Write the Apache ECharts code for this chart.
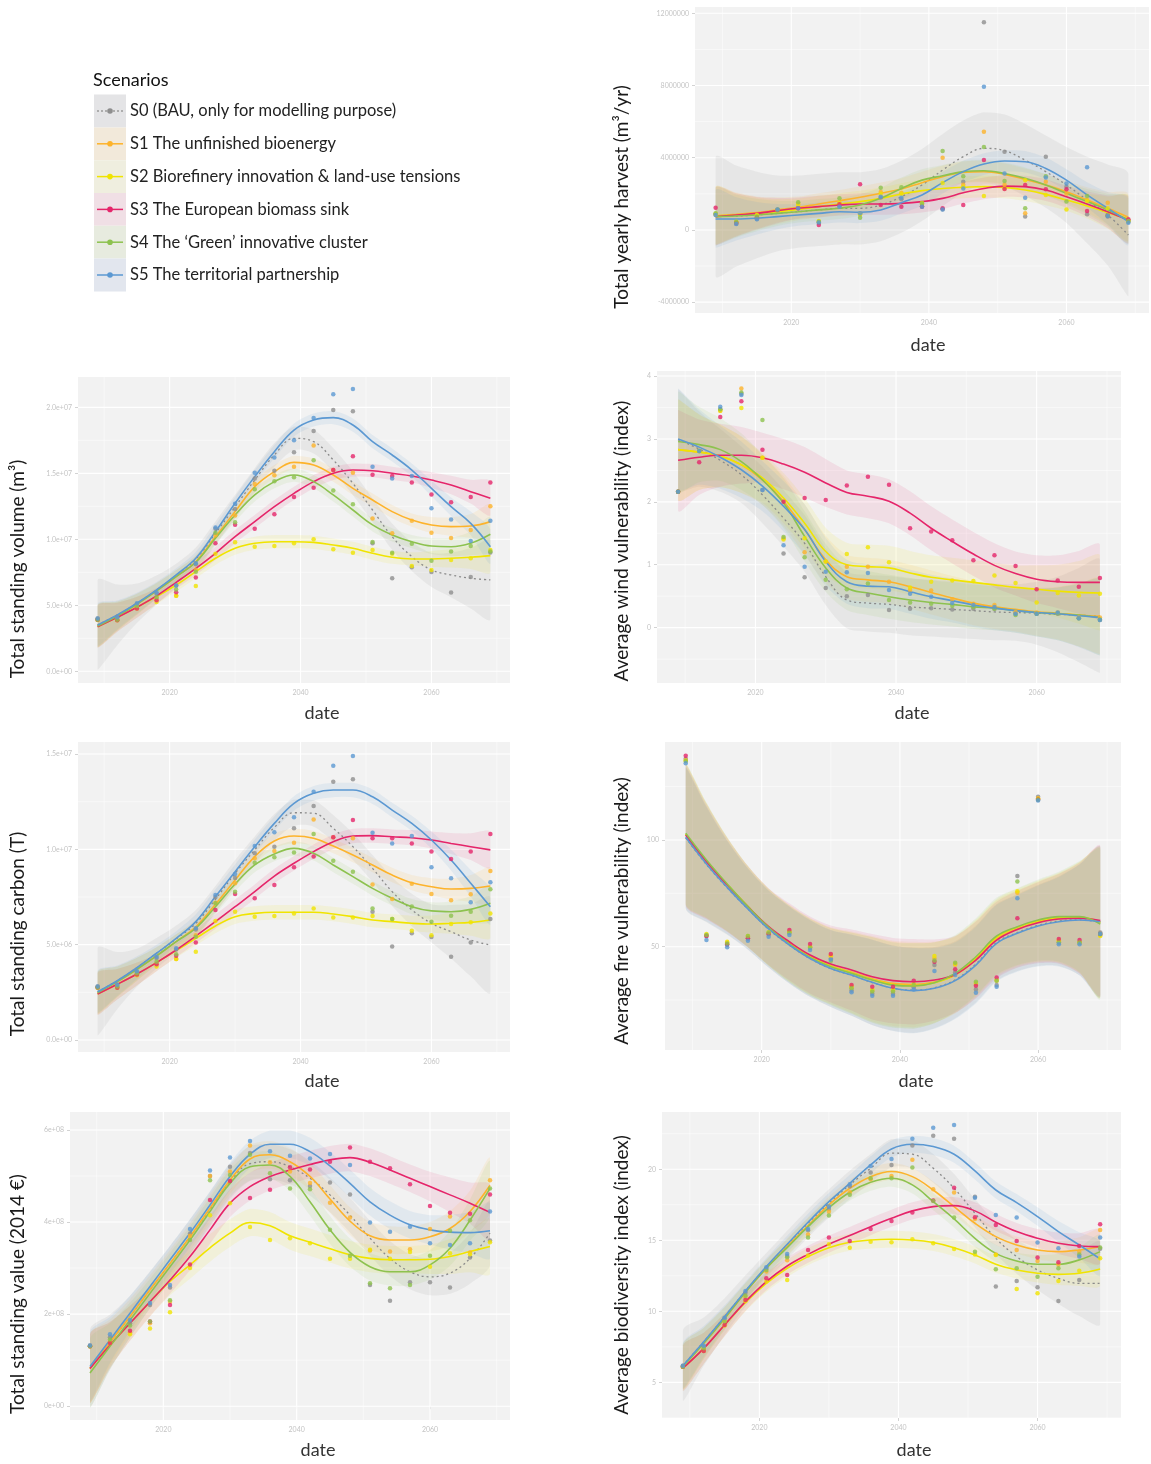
<!DOCTYPE html>
<html><head><meta charset="utf-8">
<script src="https://cdn.jsdelivr.net/npm/echarts@6/dist/echarts.min.js"></script>
<style>html,body{margin:0;padding:0;background:#fff}#c{width:1151px;height:1464px}</style>
</head><body><div id="c"></div>
<script>
// ---------- shared ----------
const dates = [2009,2012,2015,2018,2021,2024,2027,2030,2033,2036,2039,2042,2045,2048,2051,2054,2057,2060,2063,2066,2069];
const scenarios = ['S0 (BAU, only for modelling purpose)','S1 The unfinished bioenergy','S2 Biorefinery innovation & land-use tensions','S3 The European biomass sink','S4 The \u2018Green\u2019 innovative cluster','S5 The territorial partnership'];
const xTicks = [2020,2040,2060];
const xMinor = [2010,2030,2050,2070];

// ---------- Total yearly harvest (millions m3/yr) ----------
const harvestPts = [
 [0.85,0.35,0.6,1.1,1.2,0.4,1.3,0.9,1.8,1.7,1.3,1.15,2.67,11.5,4.33,0.74,4.06,2.4,0.87,0.74,0.45],
 [0.85,0.4,0.8,1.1,1.45,0.45,1.47,0.9,2.1,2.06,1.4,4.0,2.5,5.44,2.5,0.92,2.67,2.0,1.66,1.51,0.55],
 [0.9,0.45,0.83,1.1,1.4,0.5,1.5,0.85,2.0,2.0,1.5,2.6,2.4,1.88,2.3,2.76,1.94,1.14,1.6,1.2,0.5],
 [1.23,0.4,0.7,1.1,1.2,0.28,1.42,2.53,1.38,1.29,1.3,1.2,1.38,3.87,2.27,2.49,2.25,2.25,1.05,0.8,0.59],
 [0.92,0.45,0.75,1.14,1.53,0.45,1.75,0.68,2.34,2.36,1.47,4.37,2.98,4.6,2.71,1.2,2.98,1.57,1.88,0.8,0.5],
 [0.83,0.33,0.59,1.14,1.2,0.41,1.29,0.92,1.84,1.79,1.29,1.14,2.3,7.93,3.13,1.79,2.9,2.58,3.47,0.77,0.4]
];
const harvestFit = [
 [0.74,0.77,0.83,0.92,1.01,1.11,1.2,1.2,1.38,1.84,2.49,3.32,4.06,4.52,4.39,3.87,3.23,2.49,1.66,0.83,-0.28],
 [0.79,0.87,0.96,1.11,1.25,1.44,1.62,1.81,2.03,2.27,2.62,2.95,3.19,3.23,3.08,2.8,2.49,2.12,1.66,1.2,0.7],
 [0.79,0.83,0.9,1.01,1.14,1.29,1.44,1.57,1.75,1.99,2.18,2.3,2.36,2.4,2.36,2.21,1.97,1.66,1.33,0.96,0.61],
 [0.74,0.83,0.92,1.07,1.2,1.29,1.38,1.44,1.44,1.47,1.57,1.75,2.06,2.3,2.43,2.4,2.21,1.84,1.44,1.01,0.55],
 [0.74,0.77,0.83,0.92,1.01,1.11,1.2,1.38,1.75,2.3,2.76,3.0,3.23,3.28,3.13,2.86,2.49,2.03,1.57,1.11,0.55],
 [0.61,0.61,0.65,0.74,0.83,0.92,1.01,0.98,1.11,1.51,1.94,2.62,3.23,3.65,3.82,3.78,3.41,2.76,1.94,1.2,0.46]
];
const harvestSE = [1.6,1.2,0.9,0.7,0.6,0.6,0.6,0.6,0.6,0.6,0.6,0.6,0.6,0.6,0.6,0.6,0.6,0.6,0.7,0.9,1.3];
const harvestSE0 = [3.3,2.8,2.4,2.1,2.0,2.0,2.0,2.0,2.0,2.0,2.0,2.0,2.0,2.0,2.0,2.0,2.0,2.1,2.4,2.8,3.4];

// ---------- Total standing volume (millions m3) ----------
const volumePts = [
 [4.0,4.1,5.1,5.9,6.5,8.1,10.8,12.3,14.6,15.2,16.6,18.2,19.8,19.7,9.7,7.05,7.88,7.53,5.96,7.15,9.0],
 [3.9,3.9,4.9,5.5,5.73,7.7,10.3,11.8,14.2,14.85,15.5,17.1,15.25,15.05,11.57,10.45,11.4,10.5,10.1,10.7,12.5],
 [3.9,3.86,4.75,5.25,5.73,6.46,8.9,9.77,9.44,9.5,9.7,10.0,9.24,8.99,9.19,8.9,7.98,7.68,8.43,8.56,9.19],
 [3.9,3.86,4.75,5.38,5.98,7.1,9.7,11.1,10.8,11.9,13.2,13.9,15.25,16.3,14.9,14.8,14.3,13.4,12.8,13.2,14.3],
 [3.9,3.9,4.95,5.6,6.2,7.55,10.5,11.3,13.8,14.4,14.7,16.0,13.7,12.65,9.8,8.99,9.67,8.38,9.07,9.5,9.07],
 [4.0,4.1,5.15,5.96,6.5,8.18,10.9,12.7,15.05,16.2,17.5,19.2,21.0,21.4,15.5,14.6,14.8,12.35,11.5,9.87,11.4]
];
const volumeFit = [
 [3.51,4.27,5.15,6.16,7.25,8.48,10.45,12.47,14.49,16.39,17.65,17.4,16.01,14.24,12.22,10.2,8.69,7.68,7.3,7.05,6.92],
 [3.43,4.19,5.08,6.09,7.17,8.31,10.2,12.1,13.99,15.13,15.83,15.63,14.87,13.86,12.98,12.1,11.46,11.09,10.96,11.01,11.34],
 [3.38,4.09,4.85,5.66,6.54,7.55,8.56,9.32,9.7,9.82,9.82,9.77,9.57,9.32,8.94,8.64,8.51,8.51,8.56,8.64,8.76],
 [3.38,4.09,4.85,5.71,6.74,7.8,8.94,10.2,11.34,12.47,13.48,14.37,15.0,15.25,15.2,15.0,14.8,14.49,14.12,13.61,13.11],
 [3.43,4.19,5.08,6.09,7.17,8.26,10.08,11.84,13.36,14.37,14.87,14.37,13.36,12.22,11.09,10.33,9.82,9.49,9.44,9.7,10.38],
 [3.51,4.27,5.15,6.16,7.3,8.56,10.58,12.73,14.75,16.64,18.28,19.04,19.22,18.66,17.4,16.39,15.25,13.86,12.47,11.21,9.44]
];
const volumeSE = [1.6,1.1,0.8,0.6,0.5,0.5,0.5,0.5,0.5,0.5,0.5,0.5,0.5,0.5,0.5,0.5,0.5,0.6,0.7,0.9,1.3];
const volumeSE0 = [3.4,2.3,1.5,1.1,0.9,0.9,0.9,0.9,0.9,0.9,0.9,0.9,0.9,0.9,0.9,1.0,1.1,1.3,1.7,2.3,3.0];

// ---------- Average wind vulnerability (index) ----------
const windPts = [
 [2.16,2.81,3.47,3.72,2.19,1.18,0.8,0.63,0.5,0.52,0.28,0.3,0.31,0.29,0.3,0.3,0.22,0.22,0.22,0.15,0.12],
 [2.16,2.81,3.45,3.8,2.7,1.42,1.2,1.05,0.97,0.97,0.73,0.6,0.59,0.45,0.38,0.36,0.25,0.24,0.24,0.16,0.16],
 [2.16,2.81,3.45,3.49,2.7,1.4,1.42,1.05,1.17,1.28,1.04,0.64,0.73,0.75,0.74,0.83,0.71,0.4,0.55,0.51,0.54],
 [2.16,2.63,3.35,3.6,2.83,2.0,2.06,2.03,2.26,2.4,2.27,1.58,1.53,1.39,1.07,1.15,0.98,0.61,0.75,0.65,0.79],
 [2.16,2.81,3.47,3.74,3.3,1.44,1.12,0.76,0.61,0.7,0.44,0.4,0.38,0.35,0.33,0.3,0.2,0.22,0.23,0.15,0.13],
 [2.16,2.81,3.51,3.7,2.19,1.31,0.97,0.89,0.88,0.87,0.6,0.54,0.49,0.39,0.36,0.33,0.22,0.22,0.24,0.15,0.12]
];
const windFit = [
 [2.99,2.84,2.66,2.43,2.11,1.74,1.34,0.81,0.44,0.39,0.37,0.33,0.31,0.29,0.27,0.25,0.24,0.23,0.21,0.2,0.18],
 [2.83,2.79,2.73,2.59,2.35,2.01,1.56,1.08,0.81,0.76,0.73,0.65,0.56,0.47,0.39,0.33,0.29,0.25,0.23,0.2,0.18],
 [2.83,2.79,2.73,2.59,2.38,2.06,1.66,1.21,1.0,0.97,0.95,0.87,0.8,0.76,0.72,0.68,0.64,0.61,0.58,0.56,0.55],
 [2.66,2.71,2.74,2.74,2.7,2.6,2.47,2.3,2.15,2.09,2.01,1.82,1.58,1.37,1.17,0.99,0.86,0.77,0.73,0.72,0.72],
 [2.96,2.91,2.83,2.64,2.35,1.98,1.45,0.95,0.63,0.55,0.49,0.44,0.4,0.37,0.33,0.31,0.27,0.24,0.22,0.2,0.16],
 [3.0,2.87,2.71,2.51,2.25,1.93,1.56,1.05,0.73,0.66,0.65,0.57,0.49,0.43,0.36,0.31,0.27,0.24,0.22,0.19,0.16]
];
const windSE = [0.8,0.6,0.5,0.45,0.4,0.4,0.4,0.38,0.35,0.35,0.35,0.35,0.35,0.35,0.35,0.35,0.35,0.38,0.42,0.5,0.6];
const windSE0 = [0.8,0.6,0.5,0.45,0.45,0.45,0.45,0.45,0.45,0.45,0.45,0.45,0.45,0.45,0.45,0.45,0.45,0.5,0.6,0.75,0.9];

// ---------- Total standing carbon (millions T) ----------
const carbonPts = [
 [2.8,2.9,3.55,4.3,4.75,5.8,7.5,8.5,9.8,10.14,11.1,12.27,13.55,13.67,6.73,4.9,5.6,5.4,4.37,5.12,6.35],
 [2.75,2.8,3.45,4.0,4.25,5.5,7.2,8.22,9.53,9.91,10.35,11.57,10.63,10.58,8.16,7.4,8.2,7.66,7.33,7.64,8.86],
 [2.75,2.74,3.4,3.85,4.25,4.63,6.24,6.73,6.47,6.5,6.64,6.9,6.43,6.43,6.5,6.35,5.73,5.5,6.08,6.17,6.64],
 [2.75,2.74,3.44,3.97,4.42,5.12,6.82,7.66,7.43,8.13,9.06,9.62,10.63,11.54,10.58,10.58,10.31,9.88,9.49,9.88,10.8],
 [2.75,2.8,3.5,4.1,4.5,5.42,7.17,7.78,9.3,9.58,9.83,10.8,9.4,8.83,6.9,6.35,7.0,6.2,6.52,6.73,7.9],
 [2.8,2.9,3.6,4.37,4.81,5.86,7.6,8.71,10.17,10.9,11.68,13.02,14.39,14.9,10.87,10.31,10.7,9.06,8.48,7.22,8.27]
];
const carbonFit = [
 [2.53,3.11,3.79,4.55,5.3,6.12,7.38,8.74,9.97,11.15,11.92,11.89,11.1,10.14,9.0,7.78,6.82,6.12,5.68,5.24,4.98],
 [2.48,3.06,3.71,4.41,5.16,5.94,7.12,8.39,9.62,10.44,10.7,10.58,10.17,9.7,9.18,8.65,8.25,8.04,7.92,7.95,8.08],
 [2.41,2.92,3.46,4.06,4.69,5.33,5.98,6.47,6.64,6.7,6.7,6.7,6.61,6.47,6.29,6.21,6.12,6.08,6.12,6.17,6.29],
 [2.41,2.92,3.46,4.06,4.72,5.45,6.21,6.99,7.78,8.6,9.27,9.88,10.4,10.7,10.72,10.66,10.61,10.49,10.31,10.14,9.97],
 [2.48,3.06,3.71,4.41,5.16,5.86,6.99,8.18,9.18,9.76,10.05,9.79,9.18,8.57,7.95,7.43,6.99,6.77,6.73,6.85,7.17],
 [2.53,3.11,3.79,4.55,5.33,6.21,7.52,8.83,10.14,11.36,12.41,12.94,13.11,13.11,12.76,12.06,11.36,10.49,9.44,8.22,6.99]
];
const carbonSE = [1.1,0.8,0.6,0.45,0.38,0.38,0.38,0.38,0.38,0.38,0.38,0.38,0.38,0.38,0.38,0.38,0.4,0.45,0.55,0.7,0.95];
const carbonSE0 = [2.3,1.5,1.0,0.8,0.7,0.7,0.7,0.7,0.7,0.7,0.7,0.7,0.7,0.7,0.7,0.75,0.85,1.0,1.4,1.9,2.5];

// ---------- Average fire vulnerability (index) ----------
const firePts = [
 [138,55,51,54,56,56.5,49.5,44.5,29.5,28,28,31,41.4,38,30,32,83.1,120.3,52,52,56.6],
 [137.5,55.5,52,54.5,56.5,57,50,45.5,31,29.5,29.5,32,44.5,41.5,32.5,34,75.3,119.5,52.5,52,55.5],
 [137,55.9,52.3,55,56.7,57,50,46,31.5,30,30,32.5,45.6,42,33,34.5,76,119.3,53,52,55],
 [139.4,55,51,54,56,57.8,51.3,46.6,32,31.25,31.25,34.1,43,39.4,31.7,35.6,63.3,119,53.6,53.1,56],
 [137,55.5,51.5,55,56.7,56.5,49.5,43.3,30.5,29,29,32,43.5,42.5,33.6,34,80.5,118.8,52,52,56],
 [135.9,53.1,49.7,52.8,54.7,55.5,48.4,44,28.6,27,27,30,38.6,36.7,28.4,31.25,72.7,118.5,51.1,51.1,56]
];
const fireFit = [
 [101.0,88.5,77.6,67.6,58.2,50.7,44.4,39.7,36.6,33.2,30.6,29.6,30.8,34.5,41.9,52.0,56.6,60.0,62.0,62.6,61.5],
 [102.7,90.2,79.1,68.75,59.2,51.7,45.5,41.1,38.1,35.0,32.8,32.3,33.4,36.7,44.1,53.75,58.4,61.6,63.3,63.6,61.7],
 [102.8,90.3,79.2,68.75,59.1,51.4,45.2,40.8,37.7,34.5,32.3,31.7,33.1,37.0,44.7,54.4,59.1,62.0,63.6,63.75,61.25],
 [102.3,89.8,78.9,68.75,59.4,52.3,46.1,41.9,39.1,35.9,34.1,33.6,34.4,37.0,43.75,53.1,58.1,61.25,63.0,63.3,62.2],
 [103.1,90.6,79.4,68.75,59.1,51.25,45.0,40.6,37.5,34.4,32.0,31.6,33.1,37.5,45.3,55.0,59.4,62.5,64.1,64.1,60.6],
 [101.25,88.75,77.8,67.7,58.3,50.8,44.5,39.8,36.7,33.3,30.5,29.4,30.5,34.1,41.4,51.6,56.25,59.7,61.7,62.5,61.7]
];
const fireSE = [33,27,22,19,18,18,18,18,19,20,20,20,19,18,18,18,18,19,21,26,35];
const fireSE0 = [33,27,22,19,18,18,18,18,19,20,20,20,19,18,18,18,18,19,21,26,35];

// ---------- Total standing value (hundred millions 2014 EUR) ----------
const valuePts = [
 [1.32,1.5,1.8,2.2,2.58,3.75,5.0,5.2,5.5,4.93,4.91,4.78,4.86,4.6,2.63,2.29,2.69,2.69,2.58,3.23,3.6],
 [1.3,1.4,1.6,1.8,2.27,3.7,5.0,5.1,5.66,5.3,5.1,4.85,4.42,4.1,3.38,3.36,3.41,3.85,4.12,3.34,4.91],
 [1.3,1.37,1.56,1.69,2.04,3.0,4.15,4.41,3.89,3.61,3.65,3.54,3.2,3.2,3.4,3.2,3.35,3.03,3.32,3.3,3.56],
 [1.3,1.37,1.64,1.84,2.2,3.08,4.48,4.89,4.52,4.7,5.19,5.14,5.31,5.62,5.31,5.17,4.82,4.35,4.2,4.18,4.6],
 [1.3,1.45,1.75,1.84,2.3,3.61,4.91,5.02,5.46,5.06,4.73,4.71,3.83,3.27,2.67,2.56,2.63,3.27,3.81,4.04,4.73],
 [1.32,1.56,1.87,2.24,2.63,3.85,5.12,5.4,5.76,5.54,5.44,5.38,5.48,5.24,3.99,3.79,3.9,3.54,3.5,3.54,4.23]
];
const valueFit = [
 [0.82,1.39,1.95,2.53,3.1,3.68,4.28,4.88,5.27,5.31,5.2,4.95,4.59,4.15,3.65,3.21,2.92,2.81,2.89,3.21,3.76],
 [0.82,1.39,1.95,2.53,3.1,3.68,4.3,4.91,5.37,5.46,5.31,4.99,4.5,4.02,3.7,3.61,3.61,3.68,3.86,4.23,4.8],
 [0.82,1.33,1.8,2.27,2.71,3.07,3.44,3.76,3.99,3.92,3.7,3.56,3.42,3.29,3.21,3.18,3.18,3.19,3.25,3.36,3.47],
 [0.82,1.33,1.8,2.27,2.74,3.25,3.83,4.41,4.77,4.99,5.13,5.25,5.35,5.4,5.3,5.13,4.95,4.77,4.59,4.41,4.21],
 [0.72,1.3,1.87,2.45,3.03,3.61,4.23,4.84,5.2,5.24,4.99,4.44,3.83,3.34,3.03,2.92,2.92,3.07,3.43,4.04,4.73],
 [0.86,1.44,2.02,2.6,3.18,3.76,4.37,4.99,5.47,5.69,5.69,5.53,5.22,4.84,4.44,4.15,3.94,3.83,3.78,3.77,3.81]
];
const valueSE = [0.75,0.5,0.38,0.32,0.3,0.3,0.3,0.3,0.3,0.3,0.3,0.3,0.3,0.3,0.3,0.3,0.3,0.32,0.38,0.45,0.6];
const valueSE0 = [0.85,0.6,0.45,0.4,0.38,0.38,0.38,0.38,0.38,0.38,0.38,0.38,0.38,0.38,0.38,0.38,0.38,0.4,0.45,0.55,0.7];

// ---------- Average biodiversity index (index) ----------
const bioPts = [
 [6.17,7.5,9.5,11.3,13.0,13.9,15.7,17.2,18.8,19.77,20.3,21.67,22.35,22.14,18.07,11.74,12.14,11.69,10.73,12.2,14.4],
 [6.1,7.4,9.3,11.0,12.8,13.6,15.4,17.0,18.38,19.3,19.53,20.66,18.59,18.36,16.5,14.0,14.32,13.54,13.3,14.2,15.73],
 [6.1,7.2,9.0,10.7,12.09,12.2,13.92,14.72,14.48,14.9,14.86,15.07,14.79,14.39,14.0,13.97,11.57,11.27,12.14,12.86,13.73],
 [6.1,7.2,9.04,10.8,12.32,12.56,14.32,15.19,14.95,15.8,16.36,16.95,17.8,18.7,16.62,16.08,14.95,13.78,13.45,14.6,16.13],
 [6.1,7.4,9.3,11.1,12.9,13.8,15.19,16.74,18.2,19.37,19.37,20.12,17.77,16.6,14.2,12.96,13.03,12.44,13.03,14.0,14.5],
 [6.17,7.58,9.55,11.43,13.1,14.04,15.8,17.37,18.94,20.23,20.73,22.14,22.93,23.12,18.0,16.78,16.6,14.84,14.44,13.85,15.2]
];
const bioFit = [
 [6.17,7.86,9.62,11.43,13.1,14.67,16.2,17.6,18.9,20.07,21.13,21.06,20.07,18.66,16.9,15.14,13.85,12.91,12.32,11.97,11.97],
 [6.1,7.75,9.5,11.34,13.03,14.55,16.03,17.49,18.66,19.48,19.84,19.48,18.54,17.37,16.2,15.26,14.67,14.32,14.2,14.32,14.55],
 [5.99,7.39,9.04,10.63,11.97,13.03,13.85,14.48,14.86,15.02,15.07,15.02,14.84,14.48,13.97,13.31,12.91,12.68,12.6,12.68,12.98],
 [5.99,7.39,9.04,10.68,12.09,13.19,14.01,14.72,15.33,15.96,16.55,17.07,17.37,17.44,17.07,16.27,15.61,15.14,14.79,14.6,14.55],
 [6.1,7.75,9.5,11.34,13.03,14.48,15.96,17.3,18.38,19.08,19.37,18.9,17.72,16.5,15.14,14.08,13.54,13.31,13.31,13.62,14.2],
 [6.17,7.86,9.62,11.43,13.15,14.72,16.27,17.72,19.01,20.31,21.43,21.76,21.6,21.06,19.88,18.54,17.65,16.67,15.61,14.67,13.69]
];
const bioSE = [1.6,1.1,0.8,0.65,0.6,0.6,0.6,0.6,0.6,0.6,0.6,0.6,0.6,0.6,0.6,0.6,0.6,0.65,0.75,0.9,1.2];
const bioSE0 = [2.5,1.7,1.3,1.1,1.0,1.0,1.0,1.0,1.0,1.0,1.0,1.0,1.0,1.0,1.0,1.1,1.2,1.4,1.8,2.3,2.9];

// ---------- styling ----------
const colors = ['#8E8E8E','#FDB32B','#F0E400','#E5256A','#8DC24F','#5B98D2'];
const bandColors = ['rgba(150,150,150,0.12)','rgba(253,179,43,0.10)','rgba(240,228,0,0.10)','rgba(229,37,106,0.10)','rgba(141,194,79,0.10)','rgba(91,152,210,0.11)'];
const keyFill = ['#E4E4E6','#F2E9DA','#EFEEDF','#F0DFE5','#E7EBDF','#E2E6EE'];
const FONT = 'Lato, "Open Sans", sans-serif';

function sci(v, d) {
  return v.toExponential(d).replace(/e([+-])(\d)$/, 'e$10$2');
}

const panels = [
 {pts:harvestPts, fit:harvestFit, se:harvestSE, se0:harvestSE0,
  grid:{left:695, top:7, width:454, height:306}, yMin:-4.6, yMax:12.35,
  yTicks:[-4,0,4,8,12], yMinor:[-2,2,6,10], fmt:v=>String(Math.round(v*1e6)),
  title:'Total yearly harvest (m\u00b3/yr)', tPos:[622,197], dPos:[928,345]},
 {pts:volumePts, fit:volumeFit, se:volumeSE, se0:volumeSE0,
  grid:{left:78, top:377, width:432, height:306}, yMin:-0.89, yMax:22.3,
  yTicks:[0,5,10,15,20], yMinor:[2.5,7.5,12.5,17.5], fmt:v=>sci(v*1e6,1),
  title:'Total standing volume (m\u00b3)', tPos:[18,569], dPos:[322,713]},
 {pts:windPts, fit:windFit, se:windSE, se0:windSE0,
  grid:{left:657, top:371, width:464, height:312}, yMin:-0.88, yMax:4.08,
  yTicks:[0,1,2,3,4], yMinor:[-0.5,0.5,1.5,2.5,3.5], fmt:v=>String(v),
  title:'Average wind vulnerability (index)', tPos:[622,541], dPos:[912,713]},
 {pts:carbonPts, fit:carbonFit, se:carbonSE, se0:carbonSE0,
  grid:{left:78, top:742, width:432, height:310}, yMin:-0.63, yMax:15.63,
  yTicks:[0,5,10,15], yMinor:[2.5,7.5,12.5], fmt:v=>sci(v*1e6,1),
  title:'Total standing carbon (T)', tPos:[18,934], dPos:[322,1081]},
 {pts:firePts, fit:fireFit, se:fireSE, se0:fireSE0,
  grid:{left:665, top:742, width:456, height:308}, yMin:1.6, yMax:145.9,
  yTicks:[50,100], yMinor:[25,75,125], fmt:v=>String(v),
  title:'Average fire vulnerability (index)', tPos:[622,911], dPos:[916,1081]},
 {pts:valuePts, fit:valueFit, se:valueSE, se0:valueSE0,
  grid:{left:70, top:1112, width:440, height:308}, yMin:-0.3, yMax:6.39,
  yTicks:[0,2,4,6], yMinor:[1,3,5], fmt:v=>sci(v*1e8,0),
  title:'Total standing value (2014 \u20ac)', tPos:[18,1294], dPos:[318,1450]},
 {pts:bioPts, fit:bioFit, se:bioSE, se0:bioSE0,
  grid:{left:662, top:1112, width:459, height:306}, yMin:2.49, yMax:24.03,
  yTicks:[5,10,15,20], yMinor:[2.5,7.5,12.5,17.5,22.5], fmt:v=>String(v),
  title:'Average biodiversity index (index)', tPos:[622,1275], dPos:[914,1450]}
];

const grids = [], xAxes = [], yAxes = [], series = [], graphics = [];

panels.forEach((p, g) => {
  grids.push(Object.assign({show:true, z:0, backgroundColor:'#F2F2F2', borderWidth:0, outerBoundsMode:'none'}, p.grid));
  xAxes.push({type:'value', gridIndex:g, min:2006, max:2072,
    axisLine:{show:false}, splitLine:{show:false},
    axisTick:{show:true, customValues:xTicks, length:3, lineStyle:{color:'#C8C8C8', width:0.8}},
    axisLabel:{customValues:xTicks, color:'#C4C4C4', fontSize:7, margin:6, fontFamily:FONT, formatter:v=>String(v)}});
  yAxes.push({type:'value', gridIndex:g, min:p.yMin, max:p.yMax,
    axisLine:{show:false}, splitLine:{show:false},
    axisTick:{show:true, customValues:p.yTicks, length:3, lineStyle:{color:'#C8C8C8', width:0.8}},
    axisLabel:{customValues:p.yTicks, color:'#C4C4C4', fontSize:7, margin:6, fontFamily:FONT, formatter:p.fmt}});

  // white grid lines (major & minor), positioned through the axis scales
  series.push({type:'custom', xAxisIndex:g, yAxisIndex:g, silent:true, z:1, clip:true,
    data:[[2006, p.yMin]],
    renderItem:(params, api) => {
      const cs = params.coordSys;
      const kids = [];
      const hl = (v, w) => { const y = api.coord([2006, v])[1];
        kids.push({type:'line', shape:{x1:cs.x, y1:y, x2:cs.x+cs.width, y2:y}, style:{stroke:'#FFFFFF', lineWidth:w}}); };
      const vl = (v, w) => { const x = api.coord([v, p.yMin])[0];
        kids.push({type:'line', shape:{x1:x, y1:cs.y, x2:x, y2:cs.y+cs.height}, style:{stroke:'#FFFFFF', lineWidth:w}}); };
      p.yMinor.forEach(v => hl(v, 0.5));
      xMinor.forEach(v => vl(v, 0.5));
      p.yTicks.forEach(v => hl(v, 1.1));
      xTicks.forEach(v => vl(v, 1.1));
      return {type:'group', children:kids};
    }});

  // confidence bands (fit +/- se), drawn as one smoothed polygon per scenario
  for (let s = 0; s < 6; s++) {
    const se = s === 0 ? p.se0 : p.se;
    const fit = p.fit[s];
    series.push({type:'custom', xAxisIndex:g, yAxisIndex:g, silent:true, z:2, clip:true,
      data:[[dates[0], fit[0]]],
      renderItem:(params, api) => {
        const pts = [];
        for (let i = 0; i < dates.length; i++) pts.push(api.coord([dates[i], fit[i] + se[i]]));
        for (let i = dates.length - 1; i >= 0; i--) pts.push(api.coord([dates[i], fit[i] - se[i]]));
        let x0 = Infinity, y0 = Infinity, x1 = -Infinity, y1 = -Infinity;
        pts.forEach(q => { x0 = Math.min(x0, q[0]); x1 = Math.max(x1, q[0]); y0 = Math.min(y0, q[1]); y1 = Math.max(y1, q[1]); });
        return {type:'polygon', shape:{points:pts, smooth:0.3, smoothConstraint:[[x0, y0], [x1, y1]]}, style:{fill:bandColors[s]}};
      }});
  }
  // fitted curves
  for (let s = 0; s < 6; s++) {
    series.push({type:'line', xAxisIndex:g, yAxisIndex:g, smooth:0.4, showSymbol:false, silent:true, z:3,
      lineStyle:{color: s===0 ? '#8A8A8A' : colors[s], width: s===0 ? 1.3 : 1.6, type: s===0 ? [2,3] : 'solid'},
      data:dates.map((d,i)=>[d, p.fit[s][i]])});
  }
  // observed points
  for (let s = 0; s < 6; s++) {
    series.push({type:'scatter', xAxisIndex:g, yAxisIndex:g, symbolSize:4.5, silent:true, z:4,
      itemStyle:{color:colors[s]},
      data:dates.map((d,i)=>[d, p.pts[s][i]])});
  }

  graphics.push({type:'text', x:p.tPos[0], y:p.tPos[1], rotation:Math.PI/2,
    style:{text:p.title, fontSize:19, fontFamily:FONT, fill:'#1a1a1a', align:'center', verticalAlign:'middle', textAlign:'center', textVerticalAlign:'middle'}});
  graphics.push({type:'text', x:p.dPos[0], y:p.dPos[1],
    style:{text:'date', fontSize:18, fontFamily:FONT, fill:'#333', align:'center', verticalAlign:'middle', textAlign:'center', textVerticalAlign:'middle'}});
});

// legend
graphics.push({type:'text', x:93, y:80, style:{text:'Scenarios', fontSize:18, fontFamily:FONT, fill:'#111', align:'left', verticalAlign:'middle', textAlign:'left', textVerticalAlign:'middle'}});
scenarios.forEach((name, s) => {
  const cy = 111 + s * 32.8;
  graphics.push({type:'rect', shape:{x:94, y:cy-16.4, width:32, height:32.8}, style:{fill:keyFill[s]}});
  graphics.push({type:'line', shape:{x1:97, y1:cy, x2:123, y2:cy}, style:{stroke: s===0 ? '#9A9A9A' : colors[s], lineWidth:1.5, lineDash: s===0 ? [2,2] : null}});
  graphics.push({type:'circle', shape:{cx:110, cy:cy, r:2.8}, style:{fill:colors[s]}});
  graphics.push({type:'text', x:130, y:cy, style:{text:name, fontSize:16.5, fontFamily:FONT, fill:'#222', align:'left', verticalAlign:'middle', textAlign:'left', textVerticalAlign:'middle'}});
});

const chart = echarts.init(document.getElementById('c'), null, {renderer:'canvas'});
chart.setOption({
  backgroundColor:'#FFFFFF',
  animation:false,
  grid:grids, xAxis:xAxes, yAxis:yAxes, series:series,
  graphic:{elements:graphics}
});
</script>
</body></html>
